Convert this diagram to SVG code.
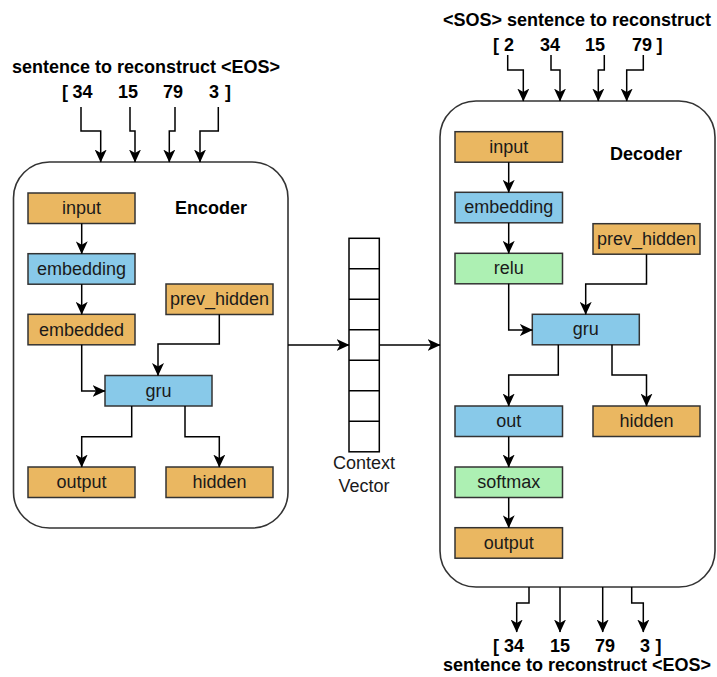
<svg xmlns="http://www.w3.org/2000/svg" width="717" height="677" viewBox="0 0 717 677">
<defs>
<marker id="arr" markerUnits="userSpaceOnUse" markerWidth="13" markerHeight="12" viewBox="0 0 13 12" refX="12.5" refY="6" orient="auto">
<path d="M0,0 L13,6 L0,12 L3.5,6 z" fill="#000"/>
</marker>
<style>
.cont{fill:#fff;stroke:#333;stroke-width:1.6}
.box{stroke:#333;stroke-width:1.5}
.or{fill:#EAB761}
.bl{fill:#88C9E9}
.gr{fill:#ADF0B3}
.lbl{font-family:"Liberation Sans",Arial,sans-serif;font-size:18px;fill:#1a1a1a;text-anchor:middle}
.ttl{font-family:"Liberation Sans",Arial,sans-serif;font-size:18px;font-weight:bold;fill:#000}
.mid{text-anchor:middle}
.con{fill:none;stroke:#000;stroke-width:1.5;marker-end:url(#arr)}
.cv{fill:#fff;stroke:#000;stroke-width:1.5}
</style>
</defs>
<rect width="717" height="677" fill="#fff"/>

<!-- containers -->
<g id="encoder">
<rect class="cont" x="13.5" y="162" width="274.5" height="366" rx="36" ry="36"/>
<text class="ttl mid" x="211" y="214">Encoder</text>
</g>
<g id="decoder">
<rect class="cont" x="440" y="101" width="275" height="486" rx="36" ry="36"/>
<text class="ttl mid" x="646" y="160">Decoder</text>
</g>

<!-- encoder labels -->
<g id="enc-title">
<text class="ttl mid" x="146" y="73">sentence to reconstruct &lt;EOS&gt;</text>
<text class="ttl" y="98"><tspan x="62">[</tspan><tspan x="72.5">34</tspan><tspan x="118">15</tspan><tspan x="163">79</tspan><tspan x="209">3</tspan><tspan x="225">]</tspan></text>
</g>

<!-- decoder labels -->
<g id="dec-title">
<text class="ttl mid" x="577" y="26">&lt;SOS&gt; sentence to reconstruct</text>
<text class="ttl" y="51"><tspan x="493">[</tspan><tspan x="504">2</tspan><tspan x="540">34</tspan><tspan x="585">15</tspan><tspan x="632">79</tspan><tspan x="656.5">]</tspan></text>
</g>
<g id="dec-out-title">
<text class="ttl" y="652"><tspan x="493">[</tspan><tspan x="504">34</tspan><tspan x="550">15</tspan><tspan x="595">79</tspan><tspan x="640">3</tspan><tspan x="655.5">]</tspan></text>
<text class="ttl mid" x="577" y="671">sentence to reconstruct &lt;EOS&gt;</text>
</g>

<!-- encoder nodes -->
<g id="enc-input"><rect class="box or" x="28" y="193" width="107" height="30.5"/><text class="lbl" x="81.5" y="214">input</text></g>
<g id="enc-embedding"><rect class="box bl" x="28" y="253.7" width="107" height="30.5"/><text class="lbl" x="81.5" y="274.5">embedding</text></g>
<g id="enc-embedded"><rect class="box or" x="28" y="314.3" width="107" height="30.5"/><text class="lbl" x="81.5" y="335.5">embedded</text></g>
<g id="enc-prev_hidden"><rect class="box or" x="166" y="284" width="107" height="30.5"/><text class="lbl" x="219.5" y="305">prev_hidden</text></g>
<g id="enc-gru"><rect class="box bl" x="105" y="375.5" width="107" height="30.5"/><text class="lbl" x="158.5" y="396.5">gru</text></g>
<g id="enc-output"><rect class="box or" x="28" y="467" width="107" height="30.5"/><text class="lbl" x="81.5" y="488">output</text></g>
<g id="enc-hidden"><rect class="box or" x="166" y="467" width="107" height="30.5"/><text class="lbl" x="219.5" y="488">hidden</text></g>

<!-- context vector -->
<g id="context-vector">
<rect class="cv" x="349" y="238.3" width="30.3" height="213.5"/>
<path d="M349,268.8H379.3M349,299.3H379.3M349,329.8H379.3M349,360.3H379.3M349,390.8H379.3M349,421.3H379.3" stroke="#000" stroke-width="1.5"/>
<text class="lbl" x="364" y="469">Context</text>
<text class="lbl" x="364" y="492">Vector</text>
</g>

<!-- decoder nodes -->
<g id="dec-input"><rect class="box or" x="455" y="131.7" width="107.5" height="30.5"/><text class="lbl" x="508.7" y="152.5">input</text></g>
<g id="dec-embedding"><rect class="box bl" x="455" y="192.3" width="107.5" height="30.5"/><text class="lbl" x="508.7" y="213">embedding</text></g>
<g id="dec-relu"><rect class="box gr" x="455" y="253.3" width="107.5" height="30.5"/><text class="lbl" x="508.7" y="274">relu</text></g>
<g id="dec-prev_hidden"><rect class="box or" x="593" y="223.7" width="107" height="30.5"/><text class="lbl" x="646.5" y="244.5">prev_hidden</text></g>
<g id="dec-gru"><rect class="box bl" x="532.3" y="314.3" width="107" height="30.5"/><text class="lbl" x="585.8" y="335">gru</text></g>
<g id="dec-out"><rect class="box bl" x="455" y="406" width="107.5" height="30.5"/><text class="lbl" x="508.7" y="427">out</text></g>
<g id="dec-hidden"><rect class="box or" x="593" y="406" width="107" height="30.5"/><text class="lbl" x="646.5" y="427">hidden</text></g>
<g id="dec-softmax"><rect class="box gr" x="455" y="467" width="107.5" height="30.5"/><text class="lbl" x="508.7" y="488">softmax</text></g>
<g id="dec-output"><rect class="box or" x="455" y="527.7" width="107.5" height="30.5"/><text class="lbl" x="508.7" y="548.5">output</text></g>

<!-- connectors -->
<g id="connectors">
<!-- encoder inputs -->
<path class="con" d="M81,107V131H100.7V162"/>
<path class="con" d="M130,107V131H135V162"/>
<path class="con" d="M175,107V131H169.3V162"/>
<path class="con" d="M218.3,107V131H200V162"/>
<!-- encoder internal -->
<path class="con" d="M81.7,223.5V253.7"/>
<path class="con" d="M81.7,284.2V314.3"/>
<path class="con" d="M81.7,344.8V391H105"/>
<path class="con" d="M219.3,314.5V344H158V375.5"/>
<path class="con" d="M131.7,406V436.7H81.7V467"/>
<path class="con" d="M185,406V436.7H219.3V467"/>
<!-- context -->
<path class="con" d="M288,345H349"/>
<path class="con" d="M379.3,345H440"/>
<!-- decoder inputs -->
<path class="con" d="M507.7,55V70H523.3V101"/>
<path class="con" d="M551,55V70H560V101"/>
<path class="con" d="M604.3,55V70H598.3V101"/>
<path class="con" d="M643.3,55V70H626.7V101"/>
<!-- decoder internal -->
<path class="con" d="M508.7,162.2V192.3"/>
<path class="con" d="M508.7,222.8V253.3"/>
<path class="con" d="M508.7,283.8V330H532.3"/>
<path class="con" d="M646.5,254.2V284H585.7V314.3"/>
<path class="con" d="M558.3,344.8V375H508.7V406"/>
<path class="con" d="M612,344.8V375H646.5V406"/>
<path class="con" d="M508.7,436.5V467"/>
<path class="con" d="M508.7,497.5V527.7"/>
<!-- decoder outputs -->
<path class="con" d="M529,587V603H516.7V632"/>
<path class="con" d="M560,587V632"/>
<path class="con" d="M602.7,587V632"/>
<path class="con" d="M631.7,587V603H643.3V632"/>
</g>
</svg>
